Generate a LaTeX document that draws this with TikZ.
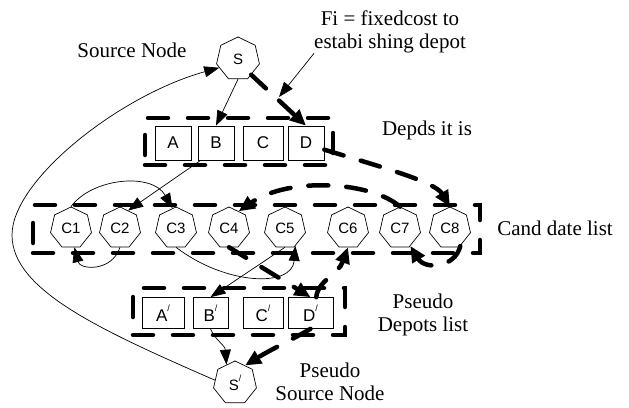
\documentclass[tikz,border=0pt]{standalone}
\usepackage{fontspec}
\setmainfont{Liberation Serif}
\newfontfamily\arialf{Liberation Sans}
\usetikzlibrary{shapes.geometric,arrows.meta}
\newcommand\myprime{\raisebox{0.6em}{\fontsize{9}{9}\selectfont /}}
\begin{document}
\begin{tikzpicture}[x=1pt,y=-1pt,
  hept/.style={draw,regular polygon,regular polygon sides=7,minimum size=42pt,inner sep=0pt,line width=0.7pt,font=\arialf\fontsize{15}{15}\selectfont},
  dbox/.style={draw,rectangle,minimum width=36pt,minimum height=34pt,inner sep=0pt,line width=0.7pt,font=\arialf\fontsize{17}{17}\selectfont},
  pbox/.style={dbox,minimum height=31pt},
  grp/.style={draw,rectangle,inner sep=0pt,line width=4.5pt,line cap=round,dash pattern=on 20pt off 20pt},
  lbl/.style={align=center,inner sep=0pt,font=\fontsize{21}{23}\selectfont},
  thinarr/.style={line width=0.7pt,-{Triangle[length=15pt,width=11pt]}},
  thickarr/.style={line width=4.5pt,line cap=round,dash pattern=on 20pt off 18pt,-{Triangle[length=16pt,width=14pt]}}]
\useasboundingbox (0,0) rectangle (629,407);
% groups
\node[grp,minimum width=188pt,minimum height=47pt] (dep) at (239,141.5) {};
\node[grp,minimum width=447pt,minimum height=48pt] (cand) at (256.5,229) {};
\node[grp,minimum width=212pt,minimum height=47pt] (pdep) at (239,311.5) {};
% source
\node[hept,minimum size=44pt] (S) at (238,59) {S};
% depots
\node[dbox] (A) at (173,143) {A};
\node[dbox] (B) at (216,143) {B};
\node[dbox,minimum width=40pt] (C) at (263,143) {C};
\node[dbox] (D) at (306,143) {D};
% candidates
\node[hept] (C1) at (71,228) {C1};
\node[hept] (C2) at (120,228) {C2};
\node[hept] (C3) at (176,228) {C3};
\node[hept] (C4) at (229,228) {C4};
\node[hept] (C5) at (285,228) {C5};
\node[hept] (C6) at (348,228) {C6};
\node[hept] (C7) at (400,228) {C7};
\node[hept] (C8) at (450,228) {C8};
% pseudo depots
\node[pbox,minimum width=42pt] (Ap) at (163,313) {A\myprime};
\node[pbox,minimum width=35pt] (Bp) at (210.5,313) {B\myprime};
\node[pbox,minimum width=40pt] (Cp) at (263,313) {C\myprime};
\node[pbox,minimum width=45pt] (Dp) at (310.5,313) {D\myprime};
% pseudo source
\node[hept,minimum size=44pt] (Sp) at (235,383) {S\myprime};
% labels
\node[lbl] (srcl) at (132,50) {Source Node};
\node[lbl] (fi) at (390,32) {Fi = fixedcost to\\estabi shing depot};
\node[lbl] (depl) at (427,130) {Depds it is};
\node[lbl] (candl) at (555,228) {Cand date list};
\node[lbl] (pdl) at (423,315) {Pseudo\\Depots list};
\node[lbl] (psl) at (330,382) {Pseudo\\Source Node};
% helper coordinates
\coordinate (fip) at (279,97);
\coordinate (lp) at (12,235);
% connectors
\draw[thinarr] (S.south) -- (B.north);
\draw[thickarr] (S.-50) -- (D.north);
\draw[thinarr] (fi.south west) -- (fip);
\draw[thinarr] (Sp.172) .. controls (100,330) and (12,290) .. (lp) .. controls (12,180) and (120,95) .. (S.205);
\draw[thinarr] ([xshift=3pt]B.south west) -- (C2.65);
\draw[thinarr] (C1.north) .. controls (92,178) and (152,172) .. (C3.100);
\draw[thinarr] (C2.south) .. controls (112,272) and (80,270) .. (C1.-80);
\draw[thickarr] (C7.north) .. controls (372,182) and (290,176) .. (C4.60);
\draw[thickarr] (D.-20) .. controls (385,168) and (435,182) .. (C8.north);
\draw[thickarr] (C4.south) -- (Dp.north);
\draw[thickarr] (Dp.70) .. controls (318,280) and (338,275) .. (C6.south);
\draw[thinarr] (C3.south) .. controls (225,285) and (292,288) .. (C5.-60);
\draw[thinarr] (C5.south) -- (Bp.north);
\draw[thickarr] (C8.-60) .. controls (455,268) and (425,270) .. (C7.-60);
\draw[thinarr] (Bp.south) .. controls (215,340) and (225,345) .. (Sp.115);
\draw[thickarr] (Dp.south) .. controls (295,338) and (270,350) .. (Sp.60);
\end{tikzpicture}
\end{document}
